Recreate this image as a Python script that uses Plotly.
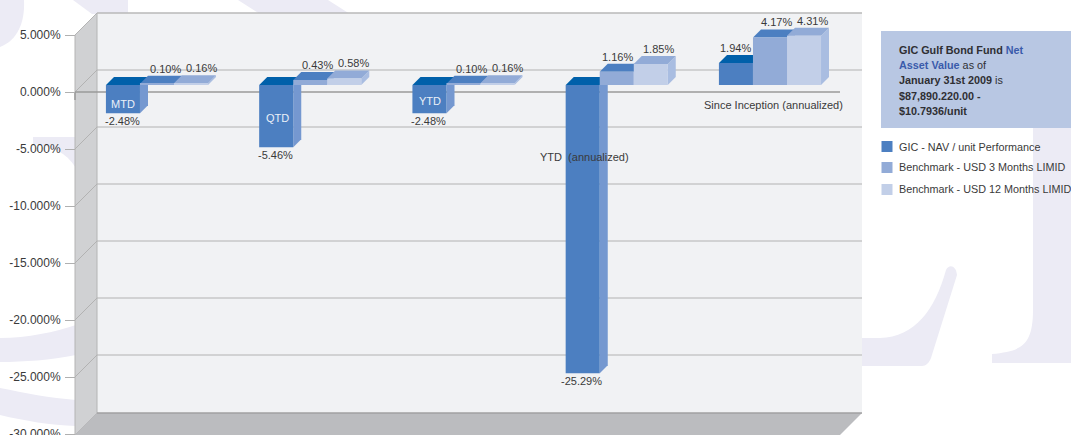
import plotly.graph_objects as go

# ---- data ----
periods = ["MTD", "QTD", "YTD", "YTD  (annualized)", "Since Inception (annualized)"]
series_names = ["GIC - NAV / unit Performance", "Benchmark - USD 3 Months LIMID", "Benchmark - USD 12 Months LIMID"]
gic = [-2.48, -5.46, -2.48, -25.29, 1.94]
usd3 = [0.10, 0.43, 0.10, 1.16, 4.17]
usd12 = [0.16, 0.58, 0.16, 1.85, 4.31]
tick_values = [5, 0, -5, -10, -15, -20, -25, -30]

# ---- styles ----
W, H = 1071, 435
FONT = "Liberation Sans, Arial, sans-serif"
TXT = "#3a3a3a"
front = ["#4c7fc1", "#92abd7", "#c2cfe8"]
top = ["#0060aa", "#4c7fc1", "#92abd7"]
side = ["#7598d0", "#a3b8de", "#a9bde1"]
WM = "#ecebf5"
GRID = "#b2b2b2"
PPU = 11.4            # pixels per percent
ZERO_PX = 92          # front-plane zero
BAR_ZERO_PX = 85      # bar-plane zero
GROUP_PX = 153.25
FIRST_CENTER_PX = 157
DEPTH = 8
WALL = 22
L, R = 75, 840
values = [gic, usd3, usd12]


def px(x):
    return x / W


def py(y):
    return 1 - y / H


def poly(points, fill, line=None, width=1):
    d = "M" + " L".join(f"{px(x):.5f},{py(y):.5f}" for x, y in points) + " Z"
    return dict(type="path", xref="paper", yref="paper", path=d, fillcolor=fill,
                line=dict(color=line or fill, width=width if line else 0), layer="below")


def curve(d, fill):
    return dict(type="path", xref="paper", yref="paper", path=d, fillcolor=fill,
                line=dict(width=0), layer="below")


def P(*items):
    out = []
    for it in items:
        if isinstance(it, str):
            out.append(it)
        else:
            out.append(f"{px(it[0]):.5f},{py(it[1]):.5f}")
    return " ".join(out)


def seg(x0, y0, x1, y1, color, width=1):
    return dict(type="line", xref="paper", yref="paper", x0=px(x0), y0=py(y0), x1=px(x1), y1=py(y1),
                line=dict(color=color, width=width), layer="below")


shapes = [
    # watermark
    curve(P("M", (0, 0), "L", (24, 0), "C", (25, 22), (18, 40), (0, 47), "Z"), WM),
    curve(P("M", (73, 0), "L", (128, 0), "L", (128, 14), "L", (92, 14), "Z"), WM),
    curve(P("M", (238, 0), "L", (328, 0), "L", (350, 14), "L", (260, 14), "Z"), WM),
    curve(P("M", (33, 137), "L", (76, 137), "L", (76, 168), "C", (66, 152), (52, 146), (33, 144), "Z"), WM),
    curve(P("M", (0, 338), "C", (28, 338), (55, 332), (76, 325), "L", (76, 355), "C", (50, 360), (25, 362), (0, 362), "Z"), WM),
    curve(P("M", (0, 388), "C", (25, 393), (50, 398), (76, 400), "L", (76, 426), "C", (50, 425), (25, 421), (0, 415), "Z"), WM),
    curve(P("M", (860, 338), "L", (880, 338), "C", (915, 337), (935, 310), (946, 270), "C", (949, 264), (956, 265), (957, 275),
            "L", (931, 358), "C", (929, 363), (926, 366), (922, 366), "L", (860, 366), "Z"), WM),
    curve(P("M", (1033, 60), "L", (1071, 60), "L", (1071, 363), "L", (992, 363), "L", (992, 354),
            "C", (1020, 351), (1033, 347), (1033, 310), "Z"), WM),
    # walls
    poly([(97, 13), (862, 13), (862, 413), (97, 413)], "#f1f2f4"),
    poly([(75, 35), (97, 13), (97, 413), (75, 435)], "#d0d1d3", "#b4b4b4"),
    poly([(97, 413), (862, 413), (840, 435), (75, 435)], "#bbbcbf"),
    seg(97, 13, 862, 13, "#b9b9b9", 1.5),
    seg(97, 413, 862, 413, "#a0a0a2", 1.5),
    # info panel
    poly([(881, 31), (1071, 31), (1071, 128), (881, 128)], "#b8c7e3"),
]

# gridlines derived from the tick values
for t in tick_values[1:-1]:
    y = ZERO_PX - t * PPU
    shapes.append(seg(L, y, L + WALL, y - WALL, GRID))
    shapes.append(seg(L + WALL, y - WALL, 862, y - WALL, GRID))
shapes.append(seg(L, ZERO_PX, L, ZERO_PX + 8, "#9a9a9a", 1.5))

# legend squares
legend_rows = [146.5, 167.5, 189.5]
for c, ly in zip(front, legend_rows):
    shapes.append(poly([(881.5, ly - 5.5), (892.5, ly - 5.5), (892.5, ly + 5.5), (881.5, ly + 5.5)], c))

# ---- axes ranges ----
x_lo = -FIRST_CENTER_PX / GROUP_PX
x_hi = (W - FIRST_CENTER_PX) / GROUP_PX
y_rng = [(ZERO_PX - H) / PPU, ZERO_PX / PPU]
bar_rng = [(BAR_ZERO_PX - H) / PPU, BAR_ZERO_PX / PPU]
bar_w = 34 / GROUP_PX
dx = DEPTH / GROUP_PX
dy = DEPTH / PPU

fig = go.Figure()

# zero line on the main value axis
fig.add_trace(go.Scatter(x=[x_lo + L / GROUP_PX, x_lo + R / GROUP_PX], y=[0, 0], mode="lines",
                         line=dict(color="#9a9a9a", width=1.5), hoverinfo="skip", showlegend=False,
                         xaxis="x", yaxis="y"))

# 3D faces (behind the front faces)
for s, vals in enumerate(values):
    for g, v in enumerate(vals):
        lft = g + (s - 1.5) * bar_w
        rgt = lft + bar_w
        hi = max(v, 0)
        fig.add_trace(go.Scatter(
            x=[rgt, rgt + dx, rgt + dx, rgt, rgt], y=[0, dy, v + dy, v, 0],
            mode="lines", line=dict(width=0), fill="toself", fillcolor=side[s],
            hoverinfo="skip", showlegend=False, xaxis="x", yaxis="y2"))
        fig.add_trace(go.Scatter(
            x=[lft, lft + dx, rgt + dx, rgt, lft], y=[hi, hi + dy, hi + dy, hi, hi],
            mode="lines", line=dict(width=0), fill="toself", fillcolor=top[s],
            hoverinfo="skip", showlegend=False, xaxis="x", yaxis="y2"))

# front faces
for s, vals in enumerate(values):
    fig.add_trace(go.Bar(x=list(range(len(periods))), y=vals, name=series_names[s],
                         marker=dict(color=front[s], line=dict(width=0)),
                         xaxis="x", yaxis="y3", showlegend=False))

# ---- text ----
ann = []
label_dx = [[-1, -1, -1, -1, -1], [8, 7, 8, 1, 6], [10, 9, 10, 8, 8]]
for s, vals in enumerate(values):
    for g, v in enumerate(vals):
        ann.append(dict(x=g + (s - 1) * bar_w, y=v, xref="x", yref="y3", text=f"{v:.2f}%", showarrow=False,
                        xshift=label_dx[s][g], yshift=15 if v > 0 else -8, yanchor="middle",
                        font=dict(family=FONT, size=11, color=TXT)))

cat_pos = [(123, 104, "#eaf0f8"), (277, 118, "#eaf0f8"), (430, 101, "#eaf0f8"), (584, 157, TXT), (773, 105, TXT)]
for name, (cx, cy, col) in zip(periods, cat_pos):
    ann.append(dict(x=px(cx), y=py(cy), xref="paper", yref="paper", text=name.replace("  ", "&nbsp; "),
                    showarrow=False, xanchor="center", yanchor="middle",
                    font=dict(family=FONT, size=11, color=col)))

NAVY = "#2f2f33"
BLUE = "#3a5bab"
panel_lines = [
    f"<b>GIC Gulf Bond Fund</b> <b><span style='color:{BLUE}'>Net</span></b>",
    f"<b><span style='color:{BLUE}'>Asset Value</span></b> as of",
    "<b>January 31st 2009</b> is",
    "<b>$87,890.220.00 -</b>",
    "<b>$10.7936/unit</b>",
]
TEXT_X = 896.5
for line, ly in zip(panel_lines, [50, 65, 80.5, 96, 111]):
    ann.append(dict(x=px(TEXT_X), y=py(ly), xref="paper", yref="paper", text=line, showarrow=False,
                    xanchor="left", yanchor="middle", font=dict(family=FONT, size=10.8, color=NAVY)))
for name, ly in zip(series_names, legend_rows):
    ann.append(dict(x=px(TEXT_X), y=py(ly), xref="paper", yref="paper", text=name, showarrow=False,
                    xanchor="left", yanchor="middle", font=dict(family=FONT, size=10.8, color=TXT)))

fig.update_layout(
    width=W, height=H, autosize=False, margin=dict(l=0, r=0, t=0, b=0, pad=0),
    paper_bgcolor="white", plot_bgcolor="rgba(0,0,0,0)", showlegend=False,
    barmode="group", bargap=1 / 3, bargroupgap=0,
    hovermode=False,
    shapes=shapes, annotations=ann,
    xaxis=dict(range=[x_lo, x_hi], visible=False, domain=[0, 1], fixedrange=True),
    yaxis=dict(range=y_rng, domain=[0, 1], anchor="free", position=L / W, side="left",
               tickmode="array", tickvals=tick_values, ticktext=[f"{t:.3f}%" for t in tick_values],
               ticks="outside", ticklen=10, tickcolor="#b0b0b0", tickwidth=1, showline=False,
               showgrid=False, zeroline=False, automargin=False, fixedrange=True,
               ticklabeloverflow="allow", ticklabelstandoff=2,
               tickfont=dict(family=FONT, size=12, color=TXT)),
    yaxis2=dict(range=bar_rng, overlaying="y", visible=False, fixedrange=True),
    yaxis3=dict(range=bar_rng, overlaying="y", visible=False, fixedrange=True),
)

fig.write_html("out.html", config={"displayModeBar": False},
               post_script="document.body.style.margin='0';document.body.style.overflow='hidden';")
